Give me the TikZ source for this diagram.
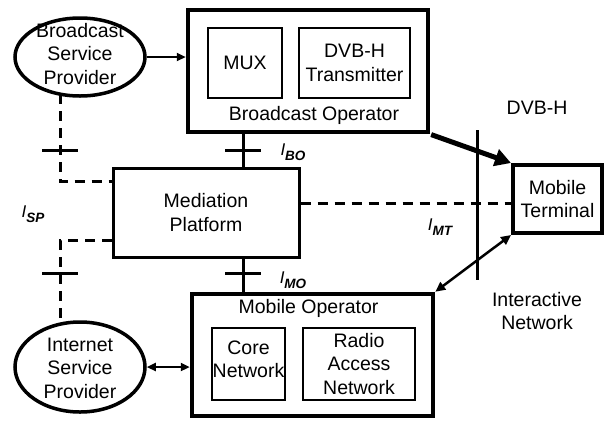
\documentclass[tikz,border=0pt]{standalone}
\usepackage{fontspec}
\setmainfont{Liberation Sans}
\usetikzlibrary{shapes.geometric,arrows.meta,calc}
\tikzset{
  txt/.style={font=\fontsize{19.5}{23.5}\selectfont, align=center, inner sep=0pt},
  bigbox/.style={draw, line width=4.5pt, inner sep=0pt},
  midbox/.style={draw, line width=3pt, inner sep=0pt},
  smallbox/.style={draw, line width=1.4pt, inner sep=0pt},
  oval/.style={draw, ellipse, line width=3.5pt, inner sep=0pt},
  dashline/.style={line width=3pt, dash pattern=on 10pt off 7pt},
  solidline/.style={line width=3pt},
  tickline/.style={line width=3pt},
  ilabel/.style={inner sep=0pt},
}
\newcommand{\ilab}[1]{{\fontsize{17}{17}\selectfont\itshape I\raisebox{-5.5pt}{\fontsize{13.5}{13.5}\selectfont\bfseries\itshape #1}}}
\begin{document}
\begin{tikzpicture}[x=1pt,y=-1pt]
\useasboundingbox (0,0) rectangle (607,421);
% boxes
\node[bigbox, minimum width=240pt, minimum height=122pt] (bo) at (308,71) {};
\node[smallbox, minimum width=74pt, minimum height=70pt, txt] (mux) at (245,63) {MUX};
\node[smallbox, minimum width=111pt, minimum height=70pt, txt] (dvbt) at (354.5,63) {DVB-H\\Transmitter};
\node[txt] (botext) at (314,115) {Broadcast Operator};
\node[midbox, minimum width=186pt, minimum height=89pt, txt] (med) at (206,212.5) {Mediation\\Platform};
\node[bigbox, minimum width=241pt, minimum height=122pt] (mo) at (312.5,355) {};
\node[txt] (motext) at (308.5,308) {Mobile Operator};
\node[smallbox, minimum width=73pt, minimum height=72pt] (core) at (248.5,364) {};
\node[txt] (coretext) at (248.5,359.5) {Core\\Network};
\node[smallbox, minimum width=112pt, minimum height=72pt, txt] (ran) at (359,364) {Radio\\Access\\Network};
\node[draw, line width=4pt, inner sep=0pt, minimum width=89pt, minimum height=68pt, txt] (mt) at (557.5,199) {Mobile\\Terminal};
% ellipses
\node[oval, minimum width=130pt, minimum height=78pt] (bsp) at (80,57) {};
\node[txt] (bsptext) at (80,54) {Broadcast\\Service\\Provider};
\node[oval, minimum width=130pt, minimum height=90pt] (isp) at (80,367) {};
\node[txt] (isptext) at (80,368) {Internet\\Service\\Provider};
% free labels
\node[txt] (dvbh) at (537,108) {DVB-H};
\node[txt] (inet) at (537,311) {Interactive\\Network};
\node[ilabel] (lbo) at (293,152) {\ilab{BO}};
\node[ilabel] (lmo) at (293,280) {\ilab{MO}};
\node[ilabel] (lsp) at (33,214) {\ilab{SP}};
\node[ilabel] (lmt) at (440,227) {\ilab{MT}};
% coordinates
\coordinate (bspb) at (60,94);
\coordinate (ispt) at (60,322);
\coordinate (medu) at ($(med.north west)+(0,15)$);
\coordinate (medl) at ($(med.south west)+(0,-18)$);
\coordinate (vx) at (243,0);
\coordinate (vtop) at (477,130);
\coordinate (vbot) at (477,280);
% connectors
\draw[line width=2.2pt, -{Triangle[length=9pt,width=8pt]}] (bsp.east) -- (bo.west |- bsp.east);
\draw[line width=2.2pt, {Triangle[length=9pt,width=8pt]}-{Triangle[length=9pt,width=8pt]}] (isp.east) -- (mo.west |- isp.east);
\draw[dashline] (bspb) |- (medu);
\draw[tickline] (42,150) -- (78,150);
\draw[dashline] (medl) -| (ispt);
\draw[tickline] (42,273) -- (78,273);
\draw[solidline] (vx |- bo.south) -- (vx |- med.north);
\draw[tickline] (225,150) -- (261,150);
\draw[solidline] (vx |- med.south) -- (vx |- mo.north);
\draw[tickline] (225,273) -- (261,273);
\draw[dashline] (med.east |- 0,203) -- (mt.west |- 0,203);
\draw[solidline] (vtop) -- (vbot);
\draw[line width=5pt, -{Triangle[length=16pt,width=17pt]}, shorten <=1pt] (bo.south east) -- (mt.north west);
\draw[line width=2.5pt, {Triangle[length=10pt,width=9pt]}-{Triangle[length=10pt,width=9pt]}] (mo.north east) -- (mt.south west);
\end{tikzpicture}
\end{document}
